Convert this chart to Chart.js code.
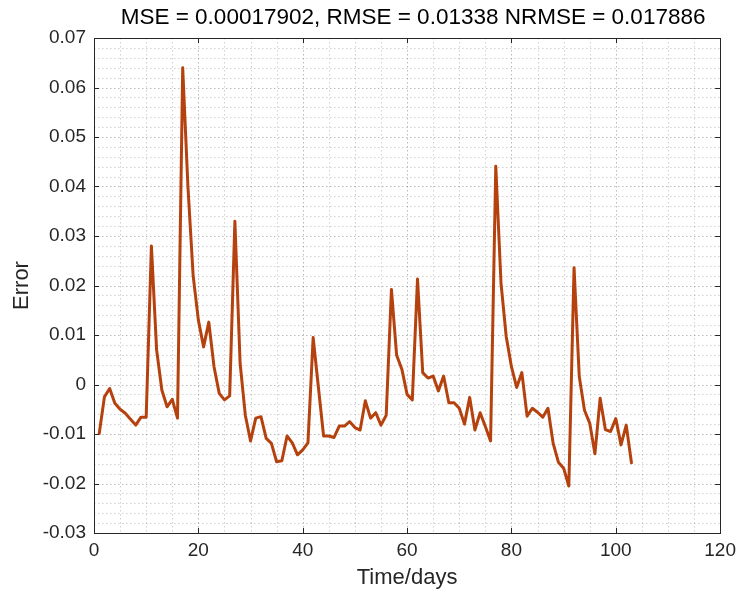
<!DOCTYPE html>
<html>
<head>
<meta charset="utf-8">
<script src="https://cdn.jsdelivr.net/npm/chart.js@4.4.1/dist/chart.umd.min.js"></script>
<style>
  html, body { margin: 0; padding: 0; background: #fff; }
  #chart { display: block; }
</style>
</head>
<body>
<canvas id="chart" width="742" height="592"></canvas>
<script>
const chartTitle = 'MSE = 0.00017902, RMSE = 0.01338 NRMSE = 0.017886';
const xLabel = 'Time/days';
const yLabel = 'Error';
const xTicks = [0, 20, 40, 60, 80, 100, 120];
const yTicks = [-0.03, -0.02, -0.01, 0, 0.01, 0.02, 0.03, 0.04, 0.05, 0.06, 0.07];

// error per day (day 1 .. 103)
const errorValues = [
  -0.0099, -0.0025, -0.0008, -0.0038, -0.0050, -0.0058, -0.0070, -0.0082, -0.0066, -0.0066,
   0.0280,  0.0070, -0.0011, -0.0045, -0.0030, -0.0068,  0.0640,  0.0400,  0.0220,  0.0130,
   0.0076,  0.0126,  0.0036, -0.0018, -0.0031, -0.0023,  0.0330,  0.0043, -0.0062, -0.0114,
  -0.0068, -0.0065, -0.0109, -0.0119, -0.0156, -0.0154, -0.0104, -0.0118, -0.0142, -0.0132,
  -0.0118,  0.0095, -0.0005, -0.0104, -0.0104, -0.0107, -0.0084, -0.0084, -0.0075, -0.0087,
  -0.0092, -0.0033, -0.0068, -0.0057, -0.0082, -0.0062,  0.0192,  0.0059,  0.0031, -0.0020,
  -0.0031,  0.0213,  0.0024,  0.0013,  0.0017, -0.0013,  0.0017, -0.0037, -0.0037, -0.0048,
  -0.0080, -0.0026, -0.0092, -0.0057, -0.0085, -0.0114,  0.0441,  0.0205,  0.0097,  0.0036,
  -0.0006,  0.0024, -0.0064, -0.0048, -0.0056, -0.0066, -0.0048, -0.0119, -0.0157, -0.0169,
  -0.0205,  0.0236,  0.0016, -0.0052, -0.0078, -0.0140, -0.0028, -0.0091, -0.0095, -0.0069,
  -0.0122, -0.0082, -0.0158
];
const days = errorValues.map((v, i) => i + 1);

const fontFamily = '"Liberation Sans", Arial, Helvetica, sans-serif';
const textColor = '#262626';

// dotted minor grid, box and inward ticks like a matlab axes
const matlabAxes = {
  id: 'matlabAxes',
  beforeDatasetsDraw(chart) {
    const { ctx, chartArea: a, scales: { x, y } } = chart;
    ctx.save();
    ctx.lineWidth = 1;
    ctx.setLineDash([1.5, 2.5]);
    for (let i = 0; i <= 24; i++) {
      const px = Math.round(x.getPixelForValue(i * 5)) + 0.5;
      ctx.strokeStyle = i % 4 === 0 ? 'rgba(0,0,0,0.26)' : 'rgba(0,0,0,0.18)';
      ctx.beginPath();
      ctx.moveTo(px, a.top);
      ctx.lineTo(px, a.bottom);
      ctx.stroke();
    }
    for (let j = 0; j <= 50; j++) {
      const py = Math.round(y.getPixelForValue(-0.03 + j * 0.002)) + 0.5;
      ctx.strokeStyle = j % 5 === 0 ? 'rgba(0,0,0,0.26)' : 'rgba(0,0,0,0.18)';
      ctx.beginPath();
      ctx.moveTo(a.left, py);
      ctx.lineTo(a.right, py);
      ctx.stroke();
    }
    ctx.restore();
  },
  afterDatasetsDraw(chart) {
    const { ctx, chartArea: a, scales: { x, y } } = chart;
    const len = 5;
    ctx.save();
    ctx.strokeStyle = textColor;
    ctx.lineWidth = 1;
    ctx.beginPath();
    xTicks.forEach(v => {
      const px = Math.round(x.getPixelForValue(v)) + 0.5;
      ctx.moveTo(px, a.bottom); ctx.lineTo(px, a.bottom - len);
      ctx.moveTo(px, a.top); ctx.lineTo(px, a.top + len);
    });
    yTicks.forEach(v => {
      const py = Math.round(y.getPixelForValue(v)) + 0.5;
      ctx.moveTo(a.left, py); ctx.lineTo(a.left + len, py);
      ctx.moveTo(a.right, py); ctx.lineTo(a.right - len, py);
    });
    ctx.stroke();
    ctx.strokeRect(Math.round(a.left) + 0.5, Math.round(a.top) + 0.5,
      Math.round(a.right - a.left), Math.round(a.bottom - a.top));
    ctx.restore();
  },
  afterDraw(chart) {
    const { ctx, chartArea: a } = chart;
    ctx.save();
    ctx.fillStyle = '#000';
    ctx.font = '22.5px ' + fontFamily;
    ctx.textAlign = 'center';
    ctx.textBaseline = 'middle';
    ctx.fillText(chartTitle, (a.left + a.right) / 2 + 6, 18);
    ctx.restore();
  }
};

new Chart(document.getElementById('chart'), {
  type: 'line',
  data: {
    datasets: [{
      data: days.map((d, i) => ({ x: d, y: errorValues[i] })),
      borderColor: '#B5420E',
      borderWidth: 3,
      pointRadius: 0,
      tension: 0,
      borderJoinStyle: 'round',
      borderCapStyle: 'round'
    }]
  },
  options: {
    responsive: false,
    animation: false,
    devicePixelRatio: 1,
    layout: { padding: { top: 38, right: 18, bottom: 0, left: 0 } },
    plugins: {
      legend: { display: false },
      tooltip: { enabled: false }
    },
    scales: {
      x: {
        type: 'linear',
        min: 0,
        max: 120,
        grid: { display: false, drawTicks: false },
        border: { display: false },
        ticks: {
          stepSize: 20,
          maxRotation: 0,
          padding: 6,
          color: textColor,
          font: { family: fontFamily, size: 19 }
        },
        title: {
          display: true,
          text: xLabel,
          color: textColor,
          font: { family: fontFamily, size: 22 },
          padding: { top: 0, bottom: 1 }
        },
        afterFit(scale) { scale.height = 59; }
      },
      y: {
        type: 'linear',
        min: -0.03,
        max: 0.07,
        grid: { display: false, drawTicks: false },
        border: { display: false },
        ticks: {
          stepSize: 0.01,
          padding: 8,
          color: textColor,
          font: { family: fontFamily, size: 19 },
          callback: v => Math.abs(v) < 1e-9 ? '0' : v.toFixed(2)
        },
        title: {
          display: true,
          text: yLabel,
          color: textColor,
          font: { family: fontFamily, size: 22 },
          padding: { top: 9, bottom: 0 }
        },
        afterFit(scale) { scale.width = 94; }
      }
    }
  },
  plugins: [matlabAxes]
});
</script>
</body>
</html>
